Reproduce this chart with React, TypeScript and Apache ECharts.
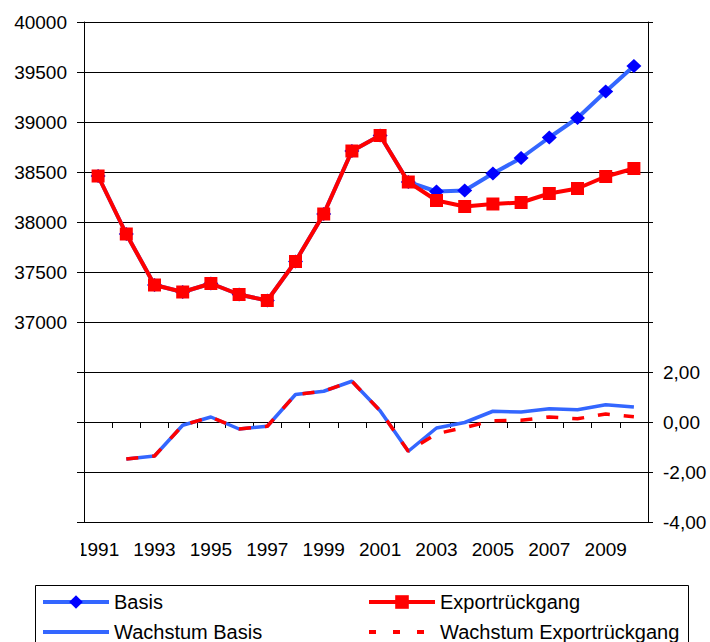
import React, { useEffect, useRef } from "react";
import * as echarts from "echarts";

const years = ["1991", "1992", "1993", "1994", "1995", "1996", "1997", "1998", "1999", "2000",
  "2001", "2002", "2003", "2004", "2005", "2006", "2007", "2008", "2009", "2010"];

const basis = [38460, 37880, 37370, 37300, 37385, 37275, 37215, 37605, 38080, 38710,
  38865, 38400, 38305, 38315, 38485, 38640, 38845, 39040, 39305, 39560];

const exportRueckgang = [38460, 37880, 37370, 37300, 37385, 37275, 37215, 37605, 38080, 38710,
  38865, 38400, 38215, 38155, 38180, 38195, 38285, 38335, 38455, 38535];

const wachstumBasis = [null, -1.48, -1.36, -0.13, 0.2, -0.28, -0.17, 1.1, 1.23, 1.63,
  0.45, -1.17, -0.24, -0.02, 0.43, 0.4, 0.53, 0.49, 0.69, 0.6];

const wachstumExport = [null, -1.48, -1.36, -0.13, 0.2, -0.28, -0.17, 1.1, 1.23, 1.63,
  0.45, -1.17, -0.47, -0.22, 0.05, 0.07, 0.2, 0.13, 0.32, 0.21];

const FONT = "'Liberation Sans', Arial, sans-serif";

export default function App() {
  const ref = useRef<HTMLDivElement>(null);
  useEffect(() => {
    if (!ref.current) return;
    const chart = echarts.init(ref.current, null, { renderer: "svg" });
    const blueLine = "#3366FF";
    const legendCommon = {
      orient: "horizontal",
      itemWidth: 66,
      itemHeight: 17,
      padding: 0,
      lineStyle: { width: 4 },
      textStyle: { fontSize: 20, lineHeight: 20, color: "#000", fontFamily: FONT },
    };
    const hidden = { color: "rgba(0,0,0,0)", borderWidth: 0 };
    const option = {
      animation: false,
      backgroundColor: "#fff",
      textStyle: { fontFamily: FONT },
      grid: { left: 84, right: 62, top: 22, bottom: 120, containLabel: false },
      xAxis: {
        type: "category",
        data: years,
        boundaryGap: true,
        axisLine: { show: true, lineStyle: { color: "#000", width: 1 } },
        axisTick: { show: true, interval: 0, length: 6, inside: false, lineStyle: { color: "#000" } },
        axisLabel: { interval: 1, margin: 18, color: "#000", fontSize: 19, fontFamily: FONT },
        splitLine: { show: false },
      },
      yAxis: [
        {
          type: "value",
          min: 35000,
          max: 40000,
          interval: 500,
          position: "left",
          axisLine: { show: true, lineStyle: { color: "#000", width: 1 } },
          axisTick: { show: true, length: 7, lineStyle: { color: "#000" } },
          axisLabel: {
            margin: 17,
            color: "#000",
            fontSize: 19,
            fontFamily: FONT,
            formatter: (v: number) => (v >= 37000 ? String(v) : ""),
          },
          splitLine: { show: true, lineStyle: { color: "#000", width: 1 } },
        },
        {
          type: "value",
          min: -4,
          max: 16,
          interval: 2,
          position: "right",
          axisLine: { show: true, lineStyle: { color: "#000", width: 1 } },
          axisTick: { show: true, length: 5, lineStyle: { color: "#000" } },
          axisLabel: {
            margin: 15,
            color: "#000",
            fontSize: 19,
            fontFamily: FONT,
            formatter: (v: number) => (v <= 2 ? v.toFixed(2).replace(".", ",") : ""),
          },
          splitLine: { show: false },
        },
      ],
      legend: [
        { ...legendCommon, left: 41, top: 592, data: ["Basis"] },
        {
          ...legendCommon,
          left: 41,
          top: 622,
          data: [{ name: "Wachstum Basis", itemStyle: hidden }],
        },
        { ...legendCommon, left: 367, top: 592, data: ["Exportrückgang"] },
        {
          ...legendCommon,
          left: 367,
          top: 622,
          data: [
            {
              name: "Wachstum Exportrückgang",
              itemStyle: hidden,
              lineStyle: { type: [7, 17], width: 4 },
            },
          ],
        },
      ],
      graphic: [
        {
          type: "rect",
          shape: { x: 35.5, y: 585.5, width: 653, height: 120 },
          style: { fill: "none", stroke: "#000", lineWidth: 1 },
          z: 0,
          silent: true,
        },
        {
          type: "rect",
          shape: { x: 0, y: 536, width: 81, height: 32 },
          style: { fill: "#fff" },
          z: 100,
          silent: true,
        },
      ],
      series: [
        {
          name: "Basis",
          type: "line",
          yAxisIndex: 0,
          data: basis,
          symbol: "diamond",
          symbolSize: [15, 14],
          itemStyle: { color: "#0000FF" },
          lineStyle: { color: blueLine, width: 4 },
          z: 2,
        },
        {
          name: "Exportrückgang",
          type: "line",
          yAxisIndex: 0,
          data: exportRueckgang,
          symbol: "rect",
          symbolSize: 13,
          itemStyle: { color: "#FF0000" },
          lineStyle: { color: "#FF0000", width: 4 },
          z: 3,
        },
        {
          name: "Wachstum Basis",
          type: "line",
          yAxisIndex: 1,
          data: wachstumBasis,
          symbol: "none",
          itemStyle: { color: blueLine },
          lineStyle: { color: blueLine, width: 3.5 },
          z: 2,
        },
        {
          name: "Wachstum Exportrückgang",
          type: "line",
          yAxisIndex: 1,
          data: wachstumExport,
          symbol: "none",
          itemStyle: { color: "#FF0000" },
          lineStyle: { color: "#FF0000", width: 3.5, type: [12, 14] },
          z: 3,
        },
      ],
    };
    chart.setOption(option as any);
    return () => chart.dispose();
  }, []);
  return (
    <div
      ref={ref}
      style={{ position: "fixed", left: 0, top: 0, width: 710, height: 642, background: "#fff" }}
    />
  );
}
